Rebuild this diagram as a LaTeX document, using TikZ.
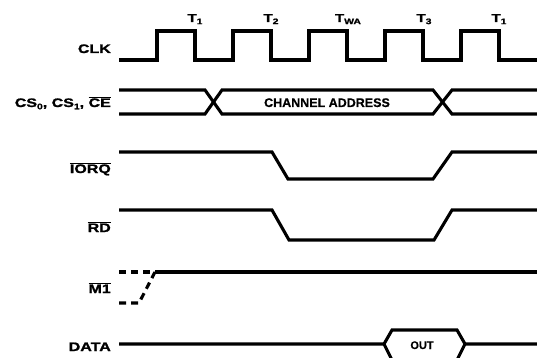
\documentclass[tikz,border=0pt]{standalone}
\usepackage{fontspec}
\setmainfont{Liberation Sans}[BoldFeatures={FakeBold=0.6}]
\newfontfamily\sigfont{Liberation Sans}[FakeStretch=1.3, BoldFeatures={FakeBold=1.5}]
\usepackage{tikz}
\usetikzlibrary{calc}
\newcommand{\sgsub}[1]{\raisebox{-0.35ex}{\fontsize{8}{8}\selectfont #1}}
\newcommand{\sgbar}[1]{$\overline{\mbox{#1}}$}

\begin{document}
\begin{tikzpicture}[x=1pt, y=-1pt]
	\tikzset{wave/.style={line width=3.1pt, line join=miter}}
	\tikzset{signame/.style={anchor=base east, inner sep=0pt, font=\sigfont\bfseries\fontsize{12.3}{13}\selectfont}}
	\tikzset{tick/.style={anchor=base, inner sep=0pt, font=\sigfont\bfseries\fontsize{11.5}{12}\selectfont}}
	\useasboundingbox (0,0) rectangle (537,358);
	
	% signal names
	\node(clk) at (111,53) [signame] {CLK};
	\node(cs) at (111,107) [signame] {CS\sgsub{0}, CS\sgsub{1}, \sgbar{CE}};
	\node(iorq) at (111,173) [signame] {\sgbar{IORQ}};
	\node(rd) at (111,232) [signame] {\sgbar{RD}};
	\node(mone) at (111,293) [signame] {\sgbar{M1}};
	\node(data) at (111,351) [signame] {DATA};
	
	% clock states
	\node(ta) at (195,22) [tick] {T\sgsub{1}};
	\node(tb) at (271,22) [tick] {T\sgsub{2}};
	\node(tw) at (348,22) [tick] {T\sgsub{WA}};
	\node(tc) at (424,22) [tick] {T\sgsub{3}};
	\node(td) at (499,22) [tick] {T\sgsub{1}};
	
	% CLK
	\draw[wave] (119,60) foreach \x in {157,233,309,385,461} {
		-- (\x,60) -- (\x,31) -- ({\x+38},31) -- ({\x+38},60)} -- (537,60);
	
	% address bus
	\draw[wave] (119,90) -- (205,90) -- (222,114) -- (433,114) -- (452,90) -- (537,90);
	\draw[wave] (119,114) -- (205,114) -- (222,90) -- (433,90) -- (452,114) -- (537,114);
	\node(addr) at (327,107) [anchor=base, font=\bfseries\fontsize{12.5}{13}\selectfont] {CHANNEL ADDRESS};
	
	% IORQ and RD
	\draw[wave] (119,152) -- (272,152) -- (288,179) -- (433,179) -- (452,152) -- (537,152);
	\draw[wave] (119,210) -- (272,210) -- (289,240) -- (434,240) -- (452,210) -- (537,210);
	
	% M1
	\draw[wave, dashed, dash pattern=on 7pt off 5pt] (119,272) -- (162,272);
	\draw[wave, dashed, dash pattern=on 7pt off 5pt] (119,303) -- (139,303) -- (155,272);
	\draw[wave] (162,272) -- (537,272);
	
	% DATA
	\draw[wave] (119,344) -- (384,344) -- (392,330) -- (457,330) -- (465,344) -- (537,344);
	\draw[wave] (384,344) -- (392,360) -- (457,360) -- (465,344);
	\node(out) at (422,349) [anchor=base, font=\bfseries\fontsize{11}{12}\selectfont] {OUT};
	
\end{tikzpicture}
\end{document}
